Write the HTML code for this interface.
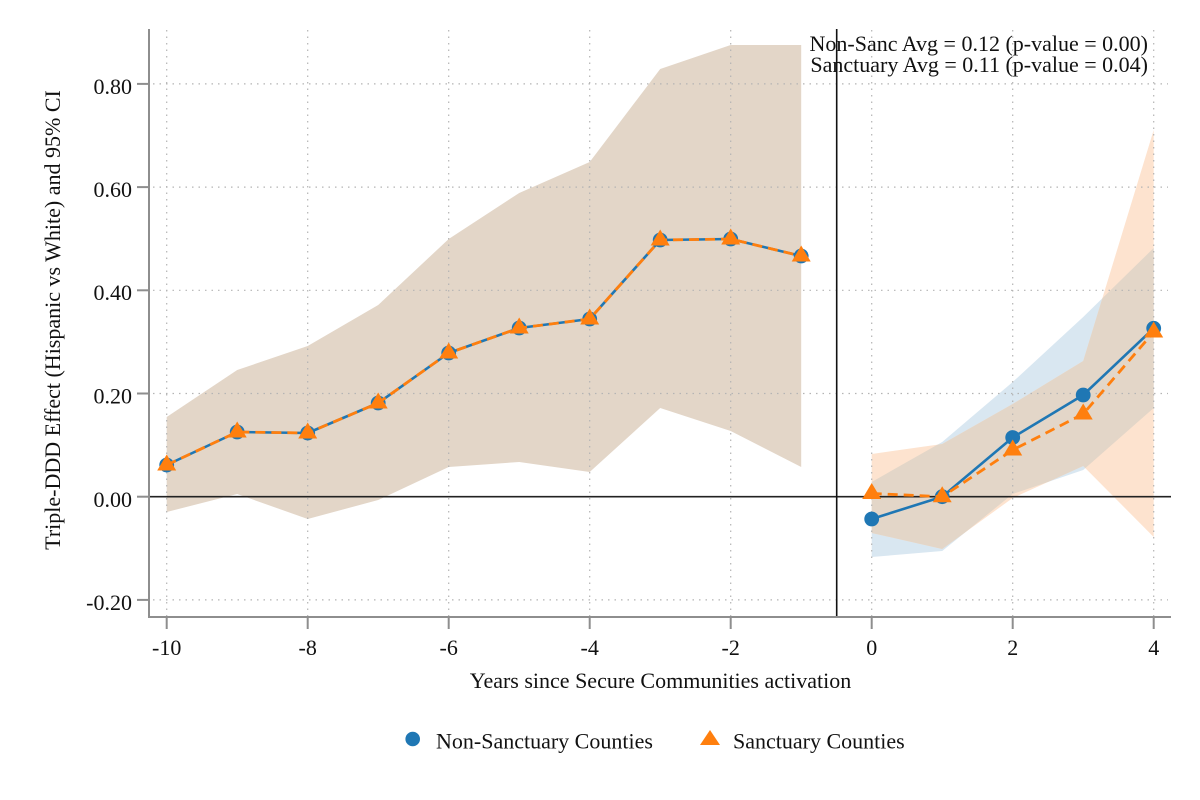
<!DOCTYPE html>
<html>
<head>
<meta charset="utf-8">
<style>
html,body{margin:0;padding:0;background:#fff;}
svg{display:block;}
text{font-family:"Liberation Serif","Times New Roman",serif;fill:#111;}
</style>
</head>
<body>
<svg width="1200" height="800" viewBox="0 0 1200 800" xmlns="http://www.w3.org/2000/svg">
<rect width="1200" height="800" fill="#fff"/>
<defs>
<clipPath id="cb"><polygon points="871.7,482 942.2,442 1012.7,382 1083.2,317 1153.7,248 1153.7,408 1083.2,470 1012.7,494 942.2,551 871.7,557"/></clipPath>
</defs>

<!-- pre-period band -->
<polygon fill="#e3d6c8" points="166.7,417 237.2,370 307.7,346 378.2,305 448.7,239 519.2,193 589.7,162 660.2,69 730.7,45 801.2,45 801.2,467 730.7,431 660.2,408 589.7,472 519.2,462 448.7,467 378.2,500 307.7,519 237.2,494 166.7,512"/>

<!-- post-period bands -->
<polygon fill="#d9e7f1" points="871.7,482 942.2,442 1012.7,382 1083.2,317 1153.7,248 1153.7,408 1083.2,470 1012.7,494 942.2,551 871.7,557"/>
<polygon fill="#fde3cf" points="871.7,454 942.2,444 1012.7,404 1083.2,361 1153.7,130 1153.7,537 1083.2,466 1012.7,498 942.2,549 871.7,533"/>
<polygon fill="#e3d6c8" clip-path="url(#cb)" points="871.7,454 942.2,444 1012.7,404 1083.2,361 1153.7,130 1153.7,537 1083.2,466 1012.7,498 942.2,549 871.7,533"/>

<!-- grid -->
<g stroke="#b4b4b4" stroke-width="1.2" stroke-dasharray="1.5 5" fill="none">
<line x1="166.7" y1="30" x2="166.7" y2="616"/>
<line x1="307.7" y1="30" x2="307.7" y2="616"/>
<line x1="448.7" y1="30" x2="448.7" y2="616"/>
<line x1="589.7" y1="30" x2="589.7" y2="616"/>
<line x1="730.7" y1="30" x2="730.7" y2="616"/>
<line x1="871.7" y1="30" x2="871.7" y2="616"/>
<line x1="1012.7" y1="30" x2="1012.7" y2="616"/>
<line x1="1153.7" y1="30" x2="1153.7" y2="616"/>
<line x1="153" y1="83.9" x2="1168" y2="83.9"/>
<line x1="153" y1="187.1" x2="1168" y2="187.1"/>
<line x1="153" y1="290.3" x2="1168" y2="290.3"/>
<line x1="153" y1="393.5" x2="1168" y2="393.5"/>
<line x1="153" y1="599.9" x2="1168" y2="599.9"/>
</g>

<!-- reference lines -->
<line x1="150" y1="496.7" x2="1171" y2="496.7" stroke="#222" stroke-width="1.6"/>
<line x1="836.7" y1="29" x2="836.7" y2="617" stroke="#111" stroke-width="1.6"/>

<!-- axes -->
<g stroke="#8e8e8e" stroke-width="2" fill="none">
<line x1="149" y1="29" x2="149" y2="618"/>
<line x1="148" y1="617" x2="1171" y2="617"/>
<line x1="137" y1="83.9" x2="149" y2="83.9"/>
<line x1="137" y1="187.1" x2="149" y2="187.1"/>
<line x1="137" y1="290.3" x2="149" y2="290.3"/>
<line x1="137" y1="393.5" x2="149" y2="393.5"/>
<line x1="137" y1="496.7" x2="149" y2="496.7"/>
<line x1="137" y1="599.9" x2="149" y2="599.9"/>
<line x1="166.7" y1="617" x2="166.7" y2="629"/>
<line x1="307.7" y1="617" x2="307.7" y2="629"/>
<line x1="448.7" y1="617" x2="448.7" y2="629"/>
<line x1="589.7" y1="617" x2="589.7" y2="629"/>
<line x1="730.7" y1="617" x2="730.7" y2="629"/>
<line x1="871.7" y1="617" x2="871.7" y2="629"/>
<line x1="1012.7" y1="617" x2="1012.7" y2="629"/>
<line x1="1153.7" y1="617" x2="1153.7" y2="629"/>
</g>

<!-- y tick labels -->
<g font-size="22" text-anchor="end">
<text x="132" y="94">0.80</text>
<text x="132" y="197">0.60</text>
<text x="132" y="300">0.40</text>
<text x="132" y="403.5">0.20</text>
<text x="132" y="507">0.00</text>
<text x="132" y="610">-0.20</text>
</g>

<!-- x tick labels -->
<g font-size="22" text-anchor="middle">
<text x="166.7" y="655">-10</text>
<text x="307.7" y="655">-8</text>
<text x="448.7" y="655">-6</text>
<text x="589.7" y="655">-4</text>
<text x="730.7" y="655">-2</text>
<text x="871.7" y="655">0</text>
<text x="1012.7" y="655">2</text>
<text x="1153.7" y="655">4</text>
</g>

<!-- axis titles -->
<text x="660.5" y="688" font-size="22" text-anchor="middle">Years since Secure Communities activation</text>
<text transform="translate(60,320) rotate(-90)" font-size="22" text-anchor="middle">Triple-DDD Effect (Hispanic vs White) and 95% CI</text>

<!-- annotation -->
<g font-size="22" text-anchor="end">
<text x="1148" y="51">Non-Sanc Avg = 0.12 (p-value = 0.00)</text>
<text x="1148" y="72">Sanctuary Avg = 0.11 (p-value = 0.04)</text>
</g>

<!-- blue series -->
<g stroke="#1f77b4" stroke-width="2.6" fill="none" stroke-linejoin="round">
<polyline points="166.7,465 237.2,432 307.7,433 378.2,403 448.7,353 519.2,328 589.7,319 660.2,240 730.7,239 801.2,256"/>
<polyline points="871.7,519 942.2,496.7 1012.7,437.5 1083.2,395 1153.7,328.3"/>
</g>
<g fill="#1f77b4">
<circle cx="166.7" cy="465" r="7.4"/>
<circle cx="237.2" cy="432" r="7.4"/>
<circle cx="307.7" cy="433" r="7.4"/>
<circle cx="378.2" cy="403" r="7.4"/>
<circle cx="448.7" cy="353" r="7.4"/>
<circle cx="519.2" cy="328" r="7.4"/>
<circle cx="589.7" cy="319" r="7.4"/>
<circle cx="660.2" cy="240" r="7.4"/>
<circle cx="730.7" cy="239" r="7.4"/>
<circle cx="801.2" cy="256" r="7.4"/>
<circle cx="871.7" cy="519" r="7.4"/>
<circle cx="942.2" cy="496.7" r="7.4"/>
<circle cx="1012.7" cy="437.5" r="7.4"/>
<circle cx="1083.2" cy="395" r="7.4"/>
<circle cx="1153.7" cy="328.3" r="7.4"/>
</g>

<!-- orange series -->
<g stroke="#ff7f0e" stroke-width="2.8" fill="none" stroke-dasharray="10 6" stroke-linejoin="round">
<polyline points="166.7,465 237.2,432 307.7,433 378.2,403 448.7,353 519.2,328 589.7,319 660.2,240 730.7,239 801.2,256"/>
<polyline points="871.7,493.5 942.2,496.7 1012.7,450 1083.2,414 1153.7,332"/>
</g>
<g fill="#ff7f0e">
<polygon points="166.7,454.5 157.2,470.5 176.2,470.5"/>
<polygon points="237.2,421.5 227.7,437.5 246.7,437.5"/>
<polygon points="307.7,422.5 298.2,438.5 317.2,438.5"/>
<polygon points="378.2,392.5 368.7,408.5 387.7,408.5"/>
<polygon points="448.7,342.5 439.2,358.5 458.2,358.5"/>
<polygon points="519.2,317.5 509.7,333.5 528.7,333.5"/>
<polygon points="589.7,308.5 580.2,324.5 599.2,324.5"/>
<polygon points="660.2,229.5 650.7,245.5 669.7,245.5"/>
<polygon points="730.7,228.5 721.2,244.5 740.2,244.5"/>
<polygon points="801.2,245.5 791.7,261.5 810.7,261.5"/>
<polygon points="871.7,483 862.2,499 881.2,499"/>
<polygon points="942.2,486.2 932.7,502.2 951.7,502.2"/>
<polygon points="1012.7,439.5 1003.2,455.5 1022.2,455.5"/>
<polygon points="1083.2,403.5 1073.7,419.5 1092.7,419.5"/>
<polygon points="1153.7,321.5 1144.2,337.5 1163.2,337.5"/>
</g>

<!-- legend -->
<circle cx="412.7" cy="739" r="7.3" fill="#1f77b4"/>
<text x="436" y="748.5" font-size="22">Non-Sanctuary Counties</text>
<polygon points="710,730 700,745 720,745" fill="#ff7f0e"/>
<text x="733" y="748.5" font-size="22">Sanctuary Counties</text>
</svg>
</body>
</html>
